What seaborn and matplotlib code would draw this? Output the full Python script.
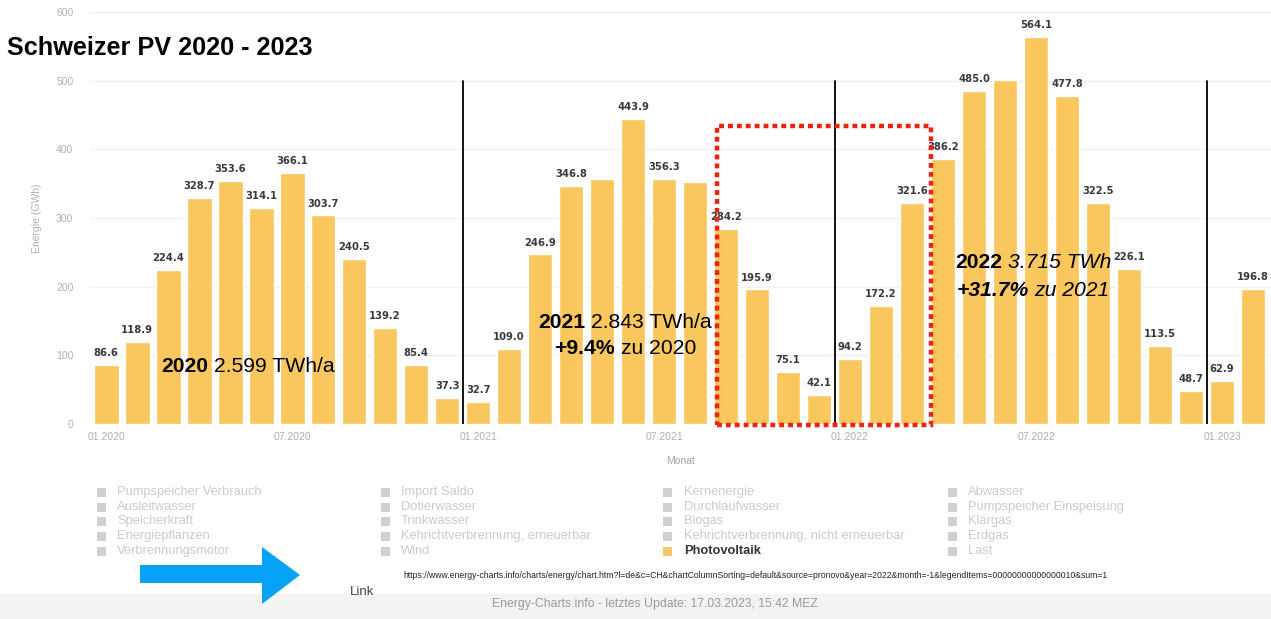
import matplotlib
matplotlib.use("Agg")
import matplotlib.pyplot as plt
from matplotlib.patches import Rectangle, Polygon, Circle
import numpy as np
import pandas as pd
import seaborn as sns

# Monthly Swiss photovoltaic production (GWh), 01.2020 - 02.2023
months = [f"{m:02d}.{y}" for y in (2020, 2021, 2022) for m in range(1, 13)] + ["01.2023", "02.2023"]
pv_2020 = [86.6, 118.9, 224.4, 328.7, 353.6, 314.1, 366.1, 303.7, 240.5, 139.2, 85.4, 37.3]
pv_2021 = [32.7, 109.0, 246.9, 346.8, 357.0, 443.9, 356.3, 352.0, 284.2, 195.9, 75.1, 42.1]
pv_2022 = [94.2, 172.2, 321.6, 386.2, 485.0, 501.0, 564.1, 477.8, 322.5, 226.1, 113.5, 48.7]
pv_2023 = [62.9, 196.8]
unlabelled = ["05.2021", "08.2021", "06.2022"]

x_ticklabels = ["01.2020", "07.2020", "01.2021", "07.2021", "01.2022", "07.2022", "01.2023"]
y_ticks = [0, 100, 200, 300, 400, 500, 600]

legend_cols = [
    ["Pumpspeicher Verbrauch", "Ausleitwasser", "Speicherkraft", "Energiepflanzen", "Verbrennungsmotor"],
    ["Import Saldo", "Dotierwasser", "Trinkwasser", "Kehrichtverbrennung, erneuerbar", "Wind"],
    ["Kernenergie", "Durchlaufwasser", "Biogas", "Kehrichtverbrennung, nicht erneuerbar", "Photovoltaik"],
    ["Abwasser", "Pumpspeicher Einspeisung", "Klärgas", "Erdgas", "Last"],
]

title = "Schweizer PV 2020 - 2023"
url = ("https://www.energy-charts.info/charts/energy/chart.htm?l=de&c=CH&chartColumnSorting=default"
       "&source=pronovo&year=2022&month=-1&legendItems=00000000000000010&sum=1")
footer = "Energy-Charts.info - letztes Update: 17.03.2023, 15:42 MEZ"

values = pv_2020 + pv_2021 + pv_2022 + pv_2023
df = pd.DataFrame({"Monat": months, "Energie": values})

sns.set_theme(style="white")
plt.rcParams["font.family"] = ["Liberation Sans", "DejaVu Sans"]

W, H = 1271, 619
fig = plt.figure(figsize=(W / 100, H / 100), dpi=100)
fig.patch.set_facecolor("white")


def fx(px):
    return px / W


def fy(py):
    return 1 - py / H


ax = fig.add_axes([fx(90), fy(424), fx(1181), 412 / H])
sns.barplot(data=df, x="Monat", y="Energie", color="#F9C75E", saturation=1,
            width=0.8, ax=ax, zorder=2)
ax.set_xlim(-0.52, 37.58)
ax.set_ylim(0, 600)

# light horizontal grid, no frame
for s in ax.spines.values():
    s.set_visible(False)
ax.set_yticks(y_ticks)
ax.yaxis.grid(True, color="#f0f0f0", lw=1, zorder=0)
ax.tick_params(axis="both", length=0, colors="#b0b0b0", labelsize=7.5)
ax.tick_params(axis="y", pad=12)
ax.tick_params(axis="x", pad=6)
tick_pos = [months.index(t) for t in x_ticklabels]
ax.set_xticks(tick_pos)
ax.set_xticklabels(x_ticklabels)
ax.set_xlabel("Monat", fontsize=7.5, color="#a5a5a5", labelpad=10)
ax.set_ylabel("Energie (GWh)", fontsize=7.5, color="#b0b0b0")
ax.yaxis.set_label_coords(-48 / 1181, 0.5)

# value labels above the bars
for i, (m, v) in enumerate(zip(months, values)):
    if m in unlabelled:
        continue
    ax.annotate(f"{v:.1f}", (i, v), xytext=(0, 5), textcoords="offset points",
                ha="center", va="bottom", fontsize=7.2, fontweight="bold",
                color="#3a3a3a", family="DejaVu Sans")

# year separators
for m in ["01.2021", "01.2022", "01.2023"]:
    xb = months.index(m) - 0.5
    ax.plot([xb, xb], [0, 500], color="black", lw=1.3, zorder=3)

# highlighted winter period
x0 = months.index("09.2021") - 0.3
x1 = months.index("03.2022") + 0.6
ax.add_patch(Rectangle((x0, -1.5), x1 - x0, 435.5, fill=False, edgecolor="#EE2211",
                       lw=3.2, linestyle=(0, (1.1, 0.9)), zorder=4, clip_on=False))

# title
fig.text(fx(7), fy(48), title, fontsize=18.2, fontweight="bold", color="black",
         ha="left", va="center")


def rich_line(pieces, cx, cy, size):
    texts = []
    for s, weight, style in pieces:
        texts.append(fig.text(0, 0, s, fontsize=size, fontweight=weight, fontstyle=style,
                              color="black", ha="left", va="center"))
    fig.canvas.draw()
    r = fig.canvas.get_renderer()
    widths = [t.get_window_extent(r).width for t in texts]
    gap = 0.278 * size * 100 / 72
    total = sum(widths) + gap * (len(texts) - 1)
    x = cx - total / 2
    for t, w in zip(texts, widths):
        t.set_position((fx(x), fy(cy)))
        x += w + gap


fs = 15.2
rich_line([("2020", "bold", "normal"), ("2.599 TWh/a", "normal", "normal")], 248, 366, fs)
rich_line([("2021", "bold", "normal"), ("2.843 TWh/a", "normal", "normal")], 625, 322, fs)
rich_line([("+9.4%", "bold", "normal"), ("zu 2020", "normal", "normal")], 625, 349, fs)
rich_line([("2022", "bold", "normal"), ("3.715 TWh", "normal", "italic")], 1033, 262, fs)
rich_line([("+31.7%", "bold", "italic"), ("zu 2021", "normal", "italic")], 1033, 290, fs)

# faded legend of the source chart
col_x = [101, 385, 668, 952]
row_y = [492, 507, 521, 536, 551]
for ci, (cx, entries) in enumerate(zip(col_x, legend_cols)):
    for ry, name in zip(row_y, entries):
        active = name == "Photovoltaik"
        mcol = "#F5C46E" if active else "#d0d0d0"
        if ci == 0:
            fig.patches.append(Rectangle((fx(cx - 4.5), fy(ry + 4.5)), fx(9), 9 / H,
                                         transform=fig.transFigure, facecolor=mcol,
                                         edgecolor="none"))
        else:
            fig.patches.append(Rectangle((fx(cx - 4.5), fy(ry + 4.5)), fx(9), 9 / H,
                                         transform=fig.transFigure, facecolor=mcol,
                                         edgecolor="none", joinstyle="round", lw=2.5))
        fig.text(fx(cx + 16), fy(ry), name, fontsize=9.3, ha="left", va="center",
                 color="#333333" if active else "#cbcbcb",
                 fontweight="bold" if active else "normal")

# source link
fig.text(fx(403), fy(575), url, fontsize=6.2, color="#222222", ha="left", va="center")
fig.text(fx(350), fy(592), "Link", fontsize=9.5, color="#444444", ha="left", va="center")

# light band at the bottom with the update note
fig.patches.append(Rectangle((0, 0), 1, fy(594), transform=fig.transFigure,
                             facecolor="#f3f3f3", edgecolor="none", zorder=0))
fig.text(fx(655), fy(604), footer, fontsize=8.8, color="#9a9a9a", ha="center", va="center")

# blue arrow pointing to the link
arrow = [(140, 565), (262, 565), (262, 547), (300, 575), (262, 604), (262, 583), (140, 583)]
fig.patches.append(Polygon([(fx(px), fy(py)) for px, py in arrow], closed=True,
                           transform=fig.transFigure, facecolor="#06A2F6", edgecolor="none"))

fig.savefig("out.png", dpi=100)
